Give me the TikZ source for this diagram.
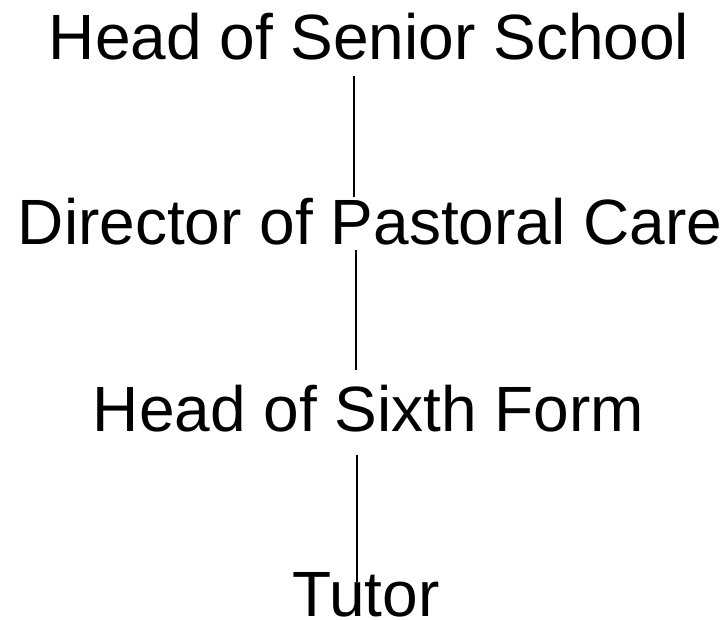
\documentclass[tikz,border=0pt]{standalone}
\usepackage{fontspec}
\setmainfont{Liberation Sans}
\begin{document}
\begin{tikzpicture}[x=1pt,y=-1pt,
  role/.style={anchor=base,inner sep=0pt,text depth=0pt,font=\fontsize{64}{70}\selectfont},
  link/.style={line width=1.4pt,black}]
\useasboundingbox (0,0) rectangle (724,620);
\node[role] (hss) at (369,60) {Head of Senior School};
\node[role] (dpc) at (370,245) {Director of Pastoral Care};
\node[role] (hsf) at (368.5,432) {Head of Sixth Form};
\node[role] (tut) at (366,616) {Tutor};
\coordinate (l1a) at (354,76);
\coordinate (l1b) at (354,197);
\coordinate (l2a) at (356,250);
\coordinate (l2b) at (356,370);
\coordinate (l3a) at (357,455);
\coordinate (l3b) at (357,582);
\draw[link] (l1a) -- (l1b);
\draw[link] (l2a) -- (l2b);
\draw[link] (l3a) -- (l3b);
\end{tikzpicture}
\end{document}
